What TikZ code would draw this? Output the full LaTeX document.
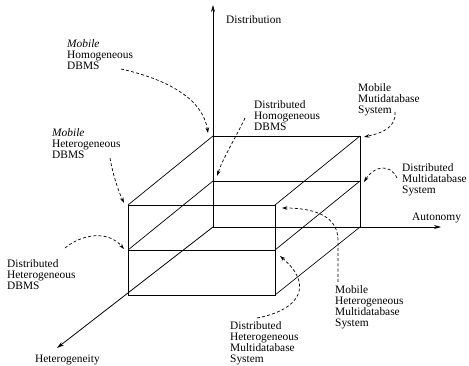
\documentclass[tikz,border=0pt]{standalone}
\usepackage{fontspec}
\setmainfont{Liberation Serif}
\usetikzlibrary{arrows.meta}
\begin{document}
\begin{tikzpicture}[x=1pt,y=-1pt,
  boxline/.style={line width=0.7pt},
  axisline/.style={line width=0.8pt,-{Stealth[length=7pt,width=4pt]}},
  pointer/.style={line width=0.7pt,dash pattern=on 3pt off 2.2pt,-{Stealth[length=5.5pt,width=3.6pt]}},
  lbl/.style={anchor=north west,inner sep=0pt,align=left,font=\fontsize{11.4}{11.2}\selectfont},
  axislbl/.style={anchor=north west,inner sep=0pt,font=\fontsize{11.4}{11.2}\selectfont}]
\useasboundingbox (0,0) rectangle (469,366);
% corners: back face
\coordinate (O) at (213,227);
\coordinate (BTL) at (213,136);
\coordinate (BTR) at (360,136);
\coordinate (BML) at (213,181);
\coordinate (BMR) at (360,181);
\coordinate (BBR) at (360,227);
% front face
\coordinate (FTL) at (128,205);
\coordinate (FTR) at (275,205);
\coordinate (FML) at (128,250);
\coordinate (FMR) at (275,250);
\coordinate (FBL) at (128,295);
\coordinate (FBR) at (275,295);
% axis ends
\coordinate (Dtip) at (213,5);
\coordinate (Atip) at (441,227);
\coordinate (Htip) at (57,348);
% axes
\draw[axisline] (O) -- (Dtip);
\draw[axisline] (O) -- (Atip);
\draw[axisline] (O) -- (Htip);
% back face
\draw[boxline] (BTL) -- (BTR) -- (BBR);
\draw[boxline] (BML) -- (BMR);
% front face
\draw[boxline] (FTL) rectangle (FBR);
\draw[boxline] (FML) -- (FMR);
% depth edges
\draw[boxline] (FTL) -- (BTL);
\draw[boxline] (FTR) -- (BTR);
\draw[boxline] (FML) -- (BML);
\draw[boxline] (FMR) -- (BMR);
\draw[boxline] (FBR) -- (BBR);
% axis labels
\node[axislbl] (ldist) at (226,15) {Distribution};
\node[axislbl] (laut) at (412,213) {Autonomy};
\node[axislbl] (lhet) at (35,355) {Heterogeneity};
% labels
\node[lbl] (l1) at (67,39) {\textit{Mobile}\\Homogeneous\\DBMS};
\node[lbl] (l2) at (52,128) {\textit{Mobile}\\Heterogeneous\\DBMS};
\node[lbl] (l3) at (254,100) {Distributed\\Homogeneous\\DBMS};
\node[lbl] (l4) at (358,83) {Mobile\\Mutidatabase\\System};
\node[lbl] (l5) at (402,163) {Distributed\\Multidatabase\\System};
\node[lbl] (l6) at (7,259) {Distributed\\Heterogeneous\\DBMS};
\node[lbl] (l7) at (335,285) {Mobile\\Heterogeneous\\Multidatabase\\System};
\node[lbl] (l8) at (230,321) {Distributed\\Heterogeneous\\Multidatabase\\System};
% pointer start and end points
\coordinate (s1) at (121,69);   \coordinate (e1) at (208,133);
\coordinate (s2) at (110,158);  \coordinate (e2) at (124,203);
\coordinate (s3) at (65,248);   \coordinate (e3) at (124,249);
\coordinate (s4) at (245,118);  \coordinate (e4) at (217,176);
\coordinate (s5) at (395,112);  \coordinate (e5) at (364,137);
\coordinate (s6) at (397,178);  \coordinate (e6) at (364,182);
\coordinate (s7) at (338,282);  \coordinate (m7) at (338,240);
\coordinate (e7) at (282,208);
\coordinate (s8) at (257,318);  \coordinate (e8) at (280,256);
% pointers
\draw[pointer] (s1) .. controls (170,80) and (203,100) .. (e1);
\draw[pointer] (s2) .. controls (113,175) and (118,190) .. (e2);
\draw[pointer] (s3) .. controls (82,234) and (108,230) .. (e3);
\draw[pointer] (s4) .. controls (236,137) and (223,158) .. (e4);
\draw[pointer] (s5) .. controls (396,128) and (382,133) .. (e5);
\draw[pointer] (s6) .. controls (390,163) and (374,166) .. (e6);
\draw[pointer] (s7) -- (m7) .. controls (338,214) and (310,208) .. (e7);
\draw[pointer] (s8) .. controls (300,310) and (314,285) .. (e8);
\end{tikzpicture}
\end{document}
